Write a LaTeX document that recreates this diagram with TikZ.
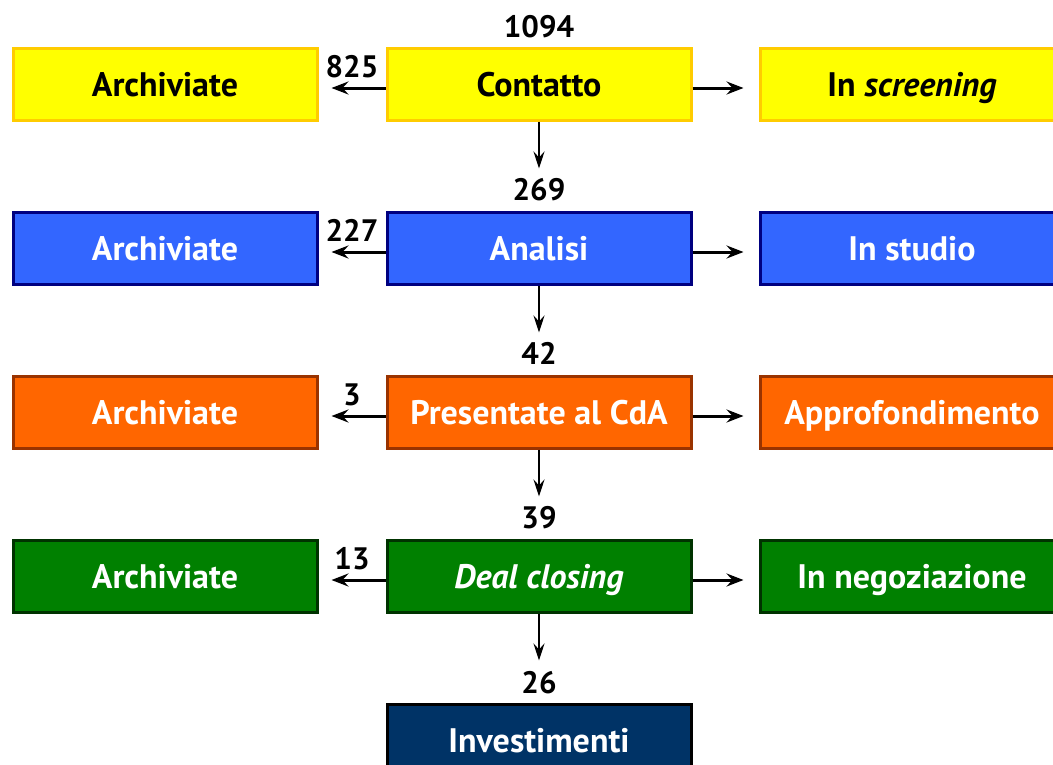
\documentclass[tikz,border=0pt]{standalone}
\usepackage{fontspec}
\setmainfont{PT Sans}
\usetikzlibrary{arrows.meta}

\definecolor{ylwFill}{HTML}{FFFF00}
\definecolor{ylwLine}{HTML}{FFCC00}
\definecolor{bluFill}{HTML}{3366FF}
\definecolor{bluLine}{HTML}{000080}
\definecolor{orgFill}{HTML}{FF6600}
\definecolor{orgLine}{HTML}{993300}
\definecolor{grnFill}{HTML}{008000}
\definecolor{grnLine}{HTML}{003300}
\definecolor{navFill}{HTML}{003366}

\tikzset{
  stage/.style={draw, line width=3pt, minimum width=304pt, minimum height=72pt,
    inner sep=0pt, text height=24pt, text depth=0pt,
    font=\fontsize{34}{40}\selectfont\bfseries},
  yellowbox/.style={stage, fill=ylwFill, draw=ylwLine, text=black},
  bluebox/.style={stage, fill=bluFill, draw=bluLine, text=white},
  orangebox/.style={stage, fill=orgFill, draw=orgLine, text=white},
  greenbox/.style={stage, fill=grnFill, draw=grnLine, text=white},
  navybox/.style={stage, fill=navFill, draw=black, text=white},
  count/.style={font=\fontsize{31}{36}\selectfont\bfseries, inner sep=0pt,
    text height=21pt, text depth=0pt},
  flow/.style={line width=3pt, -{Stealth[length=17pt,width=13pt,inset=6pt]}},
  drop/.style={line width=2.5pt, -{Stealth[length=17pt,width=11pt,inset=6pt]}},
}

\begin{document}
\begin{tikzpicture}[x=1pt,y=-1pt]
\useasboundingbox (0,0) rectangle (1053,764);
\clip (0,0) rectangle (1053,764);

% row 1: first contact
\node[yellowbox] (arc1) at (165,84) {Archiviate};
\node[yellowbox] (mid1) at (539,84) {Contatto};
\node[yellowbox] (rgt1) at (912,84) {In \textit{screening}};
% row 2: analysis
\node[bluebox] (arc2) at (165,248) {Archiviate};
\node[bluebox] (mid2) at (539,248) {Analisi};
\node[bluebox] (rgt2) at (912,248) {In studio};
% row 3: board presentation
\node[orangebox] (arc3) at (165,412) {Archiviate};
\node[orangebox] (mid3) at (539,412) {Presentate al CdA};
\node[orangebox] (rgt3) at (912,412) {Approfondimento};
% row 4: closing
\node[greenbox] (arc4) at (165,576) {Archiviate};
\node[greenbox] (mid4) at (539,576) {\textit{Deal closing}};
\node[greenbox] (rgt4) at (912,576) {In negoziazione};
% final stage
\node[navybox] (inv) at (539,740) {Investimenti};

% totals above each central stage
\node[count] (n1) at (539,27) {1094};
\node[count] (n2) at (539,190) {269};
\node[count] (n3) at (539,354) {42};
\node[count] (n4) at (539,518) {39};
\node[count] (n5) at (539,683) {26};

% archived counts
\node[count] (a1) at (352,67) {825};
\node[count] (a2) at (352,231) {227};
\node[count] (a3) at (352,395) {3};
\node[count] (a4) at (352,559) {13};

% side connectors, a little below the box centre line
\foreach \r in {1,2,3,4}{
  \draw[flow, shorten >=13pt] ([yshift=-4pt]mid\r.west) -- ([yshift=-4pt]arc\r.east);
  \draw[flow, shorten >=15pt] ([yshift=-4pt]mid\r.east) -- ([yshift=-4pt]rgt\r.west);
}
% downward connectors
\draw[drop] (mid1.south) -- ++(0,47) coordinate (d1);
\draw[drop] (mid2.south) -- ++(0,47) coordinate (d2);
\draw[drop] (mid3.south) -- ++(0,47) coordinate (d3);
\draw[drop] (mid4.south) -- ++(0,47) coordinate (d4);
\end{tikzpicture}
\end{document}
